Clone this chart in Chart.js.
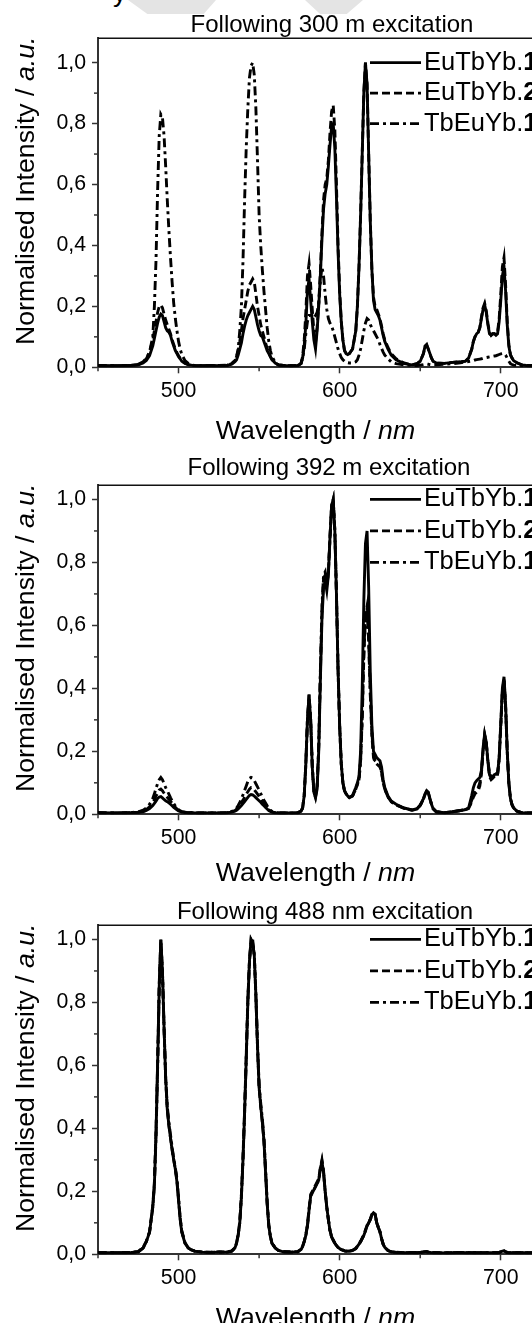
<!DOCTYPE html>
<html><head><meta charset="utf-8">
<script src="https://cdn.jsdelivr.net/npm/chart.js@4.4.1/dist/chart.umd.min.js"></script>
<style>
html,body{margin:0;padding:0;background:#fff;}
body{width:532px;height:1323px;overflow:hidden;position:relative;}
canvas{position:absolute;left:0;}
#frag{position:absolute;left:113px;top:-22px;font:26.7px "Liberation Sans",Arial,sans-serif;color:#000;line-height:30px;}
.wm{position:absolute;top:0;background:#e4e4e4;}
#wm1{left:128px;width:88px;height:14px;clip-path:polygon(0 0,100% 0,86% 100%,22% 100%);}
#wm2{left:305px;width:58px;height:14px;clip-path:polygon(0 0,100% 0,72% 100%,26% 100%);}
</style></head><body>
<div class="wm" id="wm1"></div>
<div class="wm" id="wm2"></div>
<div id="frag">y</div>
<canvas id="c1" width="664" height="460" style="top:0px"></canvas>
<canvas id="c2" width="664" height="460" style="top:447px"></canvas>
<canvas id="c3" width="664" height="460" style="top:887px"></canvas>
<script>
// ---------- DATA ----------
const wavelength = [
 450,460,470,475,478,480,482,484,485,486,
 487,488,489,490,491,492,493,494,495,496,
 497,498,499,500,501,502,504,506,508,510,
 515,520,525,530,533,535,536,537,538,539,
 540,541,542,543,544,545,546,547,548,549,
 550,551,552,553,554,555,556,557,558,560,
 562,565,570,574,576,577,578,579,580,581,
 582,583,584,585,586,587,588,589,590,591,
 592,593,594,595,596,597,598,599,600,601,
 602,603,604,605,606,608,610,611,612,613,
 614,615,616,617,618,619,620,621,622,623,
 624,625,626,627,628,630,632,635,640,645,
 648,650,652,653,654,655,656,657,658,660,
 665,670,675,678,680,682,683,684,685,686,
 687,688,689,690,691,692,693,694,695,696,
 697,698,699,700,701,702,703,704,705,706,
 707,708,710,713,716,720];

const seriesNames = ['EuTbYb.1', 'EuTbYb.2', 'TbEuYb.1'];
const panelTitles = ['Following 300 m excitation', 'Following 392 m excitation', 'Following 488 nm excitation'];
const xMajorStep = 100;
const xMinorTicks = [450, 550, 650];
const yMajorStep = 0.2;
const yMinorTicks = [0.1, 0.3, 0.5, 0.7, 0.9];
const yMaxByPanel = [1.08, 1.045, 1.045];
const legendRowValues = [1.0, 0.9, 0.8];

// Panel 1 : 300 nm excitation
const ex300_EuTbYb1 = [
 .006,.005,.006,.008,.014,.022,.038,.07,.095,.12,
 .145,.165,.175,.17,.15,.13,.12,.115,.105,.085,
 .07,.055,.045,.035,.028,.02,.013,.009,.007,.006,
 .005,.006,.005,.006,.01,.018,.025,.04,.06,.08,
 .11,.135,.155,.17,.18,.19,.2,.19,.165,.14,
 .12,.105,.1,.085,.07,.055,.045,.035,.025,.014,
 .008,.006,.005,.006,.012,.03,.07,.14,.25,.29,
 .22,.15,.09,.06,.12,.2,.3,.42,.52,.57,
 .6,.66,.73,.79,.8,.72,.56,.38,.24,.15,
 .09,.055,.045,.042,.045,.06,.12,.2,.33,.5,
 .7,.9,1.0,.93,.7,.48,.32,.22,.19,.18,
 .17,.155,.13,.105,.085,.06,.04,.025,.012,.008,
 .012,.02,.045,.07,.075,.06,.045,.03,.02,.014,
 .013,.016,.018,.02,.03,.06,.085,.1,.11,.115,
 .13,.16,.19,.205,.18,.14,.11,.105,.11,.11,
 .105,.11,.15,.22,.3,.33,.25,.14,.07,.04,
 .03,.022,.015,.008,.006,.005];
const ex300_EuTbYb2 = [
 .006,.005,.006,.009,.016,.028,.05,.09,.12,.15,
 .18,.2,.205,.195,.175,.155,.14,.125,.11,.09,
 .075,.06,.048,.038,.03,.022,.014,.009,.007,.006,
 .005,.006,.006,.007,.012,.022,.035,.055,.085,.12,
 .16,.19,.22,.25,.27,.28,.29,.28,.24,.2,
 .17,.14,.12,.1,.08,.062,.048,.035,.025,.014,
 .008,.006,.005,.006,.013,.035,.09,.18,.3,.34,
 .27,.19,.12,.08,.13,.21,.31,.44,.55,.6,
 .62,.68,.77,.84,.86,.78,.6,.4,.25,.15,
 .09,.055,.045,.042,.045,.06,.12,.2,.33,.5,
 .7,.9,1.0,.93,.7,.48,.32,.23,.2,.19,
 .175,.16,.135,.11,.09,.065,.045,.028,.014,.008,
 .012,.02,.045,.068,.072,.06,.045,.03,.02,.014,
 .013,.016,.018,.02,.03,.06,.085,.1,.11,.115,
 .13,.165,.195,.21,.185,.145,.115,.105,.11,.11,
 .11,.115,.16,.24,.33,.36,.27,.15,.075,.042,
 .03,.022,.015,.008,.006,.005];
const ex300_TbEuYb1 = [
 .005,.005,.006,.01,.018,.03,.05,.1,.2,.35,
 .58,.76,.83,.82,.76,.66,.55,.45,.36,.28,
 .21,.16,.12,.085,.06,.042,.022,.013,.008,.006,
 .005,.005,.005,.006,.012,.022,.035,.06,.12,.2,
 .35,.55,.72,.85,.95,.99,1.0,.96,.85,.68,
 .5,.4,.32,.25,.19,.13,.085,.055,.035,.016,
 .008,.006,.005,.006,.012,.03,.06,.11,.15,.17,
 .17,.165,.165,.17,.18,.21,.28,.33,.3,.24,
 .19,.16,.145,.135,.12,.1,.08,.06,.045,.032,
 .025,.02,.016,.015,.014,.014,.018,.025,.04,.06,
 .09,.12,.145,.16,.155,.14,.13,.12,.11,.1,
 .09,.075,.062,.05,.04,.028,.018,.012,.008,.006,
 .006,.007,.009,.01,.011,.01,.009,.008,.008,.008,
 .01,.012,.015,.017,.019,.021,.022,.024,.025,.026,
 .027,.028,.03,.031,.032,.033,.034,.035,.036,.037,
 .038,.04,.042,.044,.045,.045,.04,.03,.02,.012,
 .009,.007,.006,.005,.005,.005];

// Panel 2 : 392 nm excitation
const ex392_EuTbYb1 = [
 .005,.004,.005,.006,.008,.012,.018,.028,.035,.042,
 .05,.055,.056,.052,.047,.043,.04,.036,.032,.027,
 .022,.018,.014,.011,.009,.007,.006,.005,.005,.004,
 .004,.004,.004,.005,.007,.01,.013,.017,.022,.028,
 .034,.04,.047,.054,.06,.063,.062,.058,.053,.048,
 .043,.038,.032,.027,.022,.017,.012,.009,.007,.005,
 .004,.004,.004,.005,.01,.02,.06,.16,.3,.38,
 .3,.15,.07,.052,.08,.2,.42,.62,.72,.74,
 .71,.76,.88,.98,1.0,.9,.7,.46,.28,.16,
 .1,.075,.065,.058,.053,.06,.085,.1,.12,.2,
 .4,.68,.86,.9,.72,.45,.28,.2,.19,.18,
 .175,.17,.15,.11,.085,.058,.042,.032,.02,.014,
 .018,.03,.05,.065,.075,.07,.05,.032,.018,.008,
 .005,.008,.012,.015,.02,.06,.085,.1,.107,.112,
 .117,.14,.21,.255,.23,.17,.125,.115,.12,.126,
 .128,.128,.18,.29,.4,.437,.35,.2,.1,.05,
 .03,.02,.01,.005,.004,.004];
const ex392_EuTbYb2 = [
 .005,.004,.005,.007,.01,.015,.024,.036,.046,.058,
 .068,.077,.08,.075,.067,.06,.054,.048,.042,.035,
 .028,.022,.017,.013,.01,.008,.006,.005,.005,.004,
 .004,.004,.004,.005,.008,.012,.016,.022,.029,.037,
 .045,.054,.063,.072,.08,.085,.084,.078,.071,.064,
 .057,.05,.042,.035,.028,.021,.015,.011,.008,.005,
 .004,.004,.004,.005,.01,.02,.06,.16,.3,.38,
 .3,.15,.07,.055,.085,.21,.44,.64,.75,.76,
 .72,.77,.88,.98,1.0,.9,.7,.46,.28,.16,
 .1,.075,.065,.058,.053,.058,.08,.095,.11,.17,
 .3,.5,.62,.65,.55,.38,.25,.18,.165,.16,
 .155,.15,.135,.1,.08,.055,.04,.03,.019,.013,
 .017,.028,.048,.063,.073,.068,.05,.032,.018,.008,
 .005,.008,.012,.015,.018,.04,.055,.065,.07,.075,
 .09,.13,.2,.25,.225,.165,.12,.11,.115,.12,
 .122,.124,.175,.28,.39,.43,.34,.2,.1,.05,
 .03,.02,.01,.005,.004,.004];
const ex392_TbEuYb1 = [
 .005,.004,.005,.008,.013,.02,.032,.05,.065,.082,
 .098,.11,.117,.11,.098,.085,.075,.064,.053,.043,
 .034,.026,.02,.015,.011,.009,.007,.005,.005,.004,
 .004,.004,.004,.005,.009,.015,.02,.028,.038,.05,
 .062,.076,.09,.104,.114,.117,.115,.107,.097,.087,
 .077,.066,.055,.045,.036,.027,.019,.013,.009,.006,
 .004,.004,.004,.005,.01,.02,.06,.16,.3,.37,
 .3,.155,.075,.06,.09,.22,.45,.66,.76,.77,
 .73,.77,.88,.98,1.0,.9,.7,.46,.28,.16,
 .1,.075,.065,.058,.053,.058,.08,.095,.11,.17,
 .31,.52,.63,.66,.56,.39,.26,.19,.17,.165,
 .16,.15,.135,.1,.08,.055,.04,.03,.019,.013,
 .017,.028,.048,.063,.073,.068,.05,.032,.018,.008,
 .005,.008,.012,.015,.018,.045,.065,.075,.08,.085,
 .1,.135,.2,.25,.225,.17,.13,.12,.125,.128,
 .128,.128,.175,.28,.39,.43,.34,.2,.1,.05,
 .03,.02,.01,.005,.004,.004];

// Panel 3 : 488 nm excitation
const ex488_EuTbYb1 = [
 .005,.005,.005,.008,.02,.04,.07,.15,.22,.38,
 .6,.85,1.0,.9,.72,.56,.46,.41,.37,.33,
 .3,.27,.23,.17,.11,.07,.035,.02,.014,.01,
 .007,.006,.007,.007,.01,.02,.035,.06,.1,.18,
 .3,.45,.62,.8,.93,1.0,.99,.95,.82,.66,
 .53,.47,.42,.36,.26,.16,.09,.055,.035,.02,
 .012,.008,.007,.008,.015,.025,.04,.06,.09,.14,
 .185,.195,.205,.215,.225,.235,.27,.295,.26,.2,
 .15,.11,.075,.055,.045,.035,.028,.022,.018,.015,
 .013,.011,.01,.01,.01,.012,.018,.025,.032,.04,
 .05,.06,.075,.09,.1,.11,.125,.132,.128,.1,
 .085,.072,.05,.032,.022,.012,.008,.006,.005,.005,
 .005,.006,.007,.008,.008,.007,.006,.005,.005,.005,
 .004,.005,.006,.005,.005,.005,.005,.005,.005,.005,
 .005,.005,.005,.005,.005,.005,.005,.005,.005,.005,
 .005,.005,.006,.008,.01,.011,.008,.006,.005,.005,
 .005,.005,.005,.005,.005,.005];
const ex488_EuTbYb2 = [
 .005,.005,.006,.009,.022,.042,.072,.155,.23,.39,
 .61,.86,1.0,.9,.72,.56,.46,.41,.37,.335,
 .3,.27,.235,.175,.115,.075,.037,.021,.014,.01,
 .007,.007,.008,.007,.011,.021,.037,.063,.105,.19,
 .31,.46,.63,.81,.93,1.0,.99,.95,.82,.66,
 .53,.47,.42,.36,.265,.165,.095,.058,.036,.02,
 .012,.008,.008,.009,.016,.026,.042,.063,.095,.145,
 .19,.2,.21,.22,.23,.24,.275,.3,.265,.2,
 .15,.11,.076,.056,.045,.036,.028,.022,.018,.015,
 .013,.011,.01,.01,.011,.013,.019,.026,.033,.042,
 .052,.062,.077,.092,.102,.112,.127,.133,.128,.1,
 .085,.072,.05,.032,.022,.012,.008,.007,.005,.006,
 .006,.006,.008,.008,.009,.007,.006,.006,.005,.005,
 .005,.005,.006,.005,.006,.005,.005,.005,.006,.005,
 .005,.005,.005,.005,.005,.005,.005,.005,.005,.005,
 .005,.005,.006,.008,.01,.011,.008,.006,.005,.005,
 .005,.005,.005,.005,.005,.005];
const ex488_TbEuYb1 = [
 .005,.005,.005,.008,.02,.04,.07,.15,.22,.37,
 .59,.84,.99,.9,.72,.56,.47,.42,.38,.34,
 .305,.275,.24,.18,.115,.072,.036,.02,.014,.01,
 .007,.006,.007,.007,.01,.02,.036,.062,.1,.185,
 .3,.45,.62,.8,.93,.99,1.0,.95,.83,.67,
 .54,.48,.43,.37,.27,.165,.092,.056,.035,.02,
 .012,.008,.007,.008,.015,.025,.04,.06,.09,.14,
 .185,.195,.205,.215,.225,.235,.27,.29,.26,.2,
 .15,.11,.075,.055,.045,.035,.028,.022,.018,.015,
 .013,.011,.01,.01,.01,.012,.018,.025,.032,.04,
 .05,.06,.075,.09,.1,.11,.125,.13,.126,.1,
 .085,.072,.05,.032,.022,.012,.008,.006,.005,.005,
 .005,.006,.007,.008,.008,.007,.006,.005,.005,.005,
 .004,.005,.006,.005,.005,.005,.005,.005,.005,.005,
 .005,.005,.005,.005,.005,.005,.005,.005,.005,.005,
 .005,.005,.006,.008,.01,.011,.008,.006,.005,.005,
 .005,.005,.005,.005,.005,.005];

// ---------- RENDERING ----------
const FONT = '"Liberation Sans", Arial, Helvetica, sans-serif';
const dashStyles = [[], [8, 4], [9, 4, 3, 4]];
const AXIS = '#333';

function seg(ctx, x1, y1, x2, y2) { ctx.beginPath(); ctx.moveTo(x1, y1); ctx.lineTo(x2, y2); ctx.stroke(); }

const overlay = {
  id: 'overlay',
  afterDraw(chart, args, opts) {
    const {ctx, chartArea: a, scales: {x, y}} = chart;
    ctx.save();
    // frame (top & right)
    ctx.strokeStyle = '#111'; ctx.lineWidth = 1.6;
    seg(ctx, a.left, a.top, a.right, a.top);
    seg(ctx, a.right, a.top, a.right, a.bottom);
    // minor ticks
    ctx.strokeStyle = AXIS; ctx.lineWidth = 1.5;
    xMinorTicks.forEach(v => { const px = x.getPixelForValue(v); seg(ctx, px, a.bottom, px, a.bottom + 4); });
    yMinorTicks.forEach(v => { const py = y.getPixelForValue(v); seg(ctx, a.left - 4, py, a.left, py); });
    // panel title
    ctx.fillStyle = '#000'; ctx.textAlign = 'center'; ctx.textBaseline = 'alphabetic';
    ctx.font = '24px ' + FONT;
    ctx.fillText(opts.title, opts.titleX, a.top - opts.titleGap);
    ctx.textAlign = 'left';
    // legend
    chart.data.datasets.forEach((ds, i) => {
      const py = y.getPixelForValue(legendRowValues[i]);
      ctx.strokeStyle = '#000'; ctx.lineWidth = 2.8; ctx.setLineDash(ds.borderDash || []);
      seg(ctx, 370, py, 421, py);
      ctx.setLineDash([]);
      ctx.textBaseline = 'middle';
      const base = ds.label.slice(0, -1), last = ds.label.slice(-1);
      ctx.font = '25.5px ' + FONT;
      ctx.fillText(base, 424, py);
      const w = ctx.measureText(base).width;
      ctx.font = 'bold 25.5px ' + FONT;
      ctx.fillText(last, 424 + w, py);
    });
    // x axis title
    ctx.textBaseline = 'alphabetic';
    const xt1 = 'Wavelength / ', xt2 = 'nm';
    ctx.font = '26.7px ' + FONT; const w1 = ctx.measureText(xt1).width;
    ctx.font = 'italic 26.7px ' + FONT; const w2 = ctx.measureText(xt2).width;
    const cx = (a.left + a.right) / 2, by = a.bottom + opts.xTitleGap;
    ctx.font = '26.7px ' + FONT; ctx.fillText(xt1, cx - (w1 + w2) / 2, by);
    ctx.font = 'italic 26.7px ' + FONT; ctx.fillText(xt2, cx - (w1 + w2) / 2 + w1, by);
    // y axis title
    const yt1 = 'Normalised Intensity / ', yt2 = 'a.u.';
    ctx.font = '26.7px ' + FONT; const v1 = ctx.measureText(yt1).width;
    ctx.font = 'italic 26.7px ' + FONT; const v2 = ctx.measureText(yt2).width;
    const cy = (a.top + a.bottom) / 2 - 12;
    ctx.translate(34.4, cy); ctx.rotate(-Math.PI / 2);
    ctx.font = '26.7px ' + FONT; ctx.fillText(yt1, -(v1 + v2) / 2, 0);
    ctx.font = 'italic 26.7px ' + FONT; ctx.fillText(yt2, -(v1 + v2) / 2 + v1, 0);
    ctx.restore();
  }
};

function makeChart(id, series, title, yMax, titleX, titleGap, xTitleGap) {
  const canvas = document.getElementById(id);
  const W = canvas.width;
  return new Chart(canvas, {
    type: 'line',
    data: {
      datasets: seriesNames.map((name, i) => ({
        label: name,
        data: wavelength.map((w, k) => ({x: w, y: series[i][k]})),
        borderColor: '#000', backgroundColor: '#000',
        borderWidth: 2.9, borderDash: dashStyles[i],
        pointRadius: 0, tension: 0, fill: false
      }))
    },
    options: {
      responsive: false, animation: false, devicePixelRatio: 1,
      layout: {padding: {top: 38.3, left: 0, right: W - 533, bottom: 32.7}},
      plugins: {
        legend: {display: false}, tooltip: {enabled: false}, title: {display: false},
        overlay: {title: title, titleX: titleX, titleGap: titleGap, xTitleGap: xTitleGap}
      },
      scales: {
        x: {
          type: 'linear', min: 450, max: 720,
          afterFit: s => { s.height = 60; },
          ticks: {stepSize: xMajorStep, includeBounds: false, color: '#000', maxRotation: 0, autoSkip: false,
                  font: {family: FONT, size: 21.3}, padding: 5},
          grid: {drawOnChartArea: false, drawTicks: true, tickLength: 6, tickColor: AXIS, tickWidth: 1.5},
          border: {display: true, color: AXIS, width: 2}
        },
        y: {
          type: 'linear', min: 0, max: yMax,
          afterFit: s => { s.width = 98; },
          ticks: {stepSize: yMajorStep, includeBounds: false, color: '#000',
                  font: {family: FONT, size: 21.3}, padding: 6,
                  callback: v => v.toFixed(1).replace('.', ',')},
          grid: {drawOnChartArea: false, drawTicks: true, tickLength: 6, tickColor: AXIS, tickWidth: 1.5},
          border: {display: true, color: AXIS, width: 2}
        }
      }
    },
    plugins: [overlay]
  });
}

makeChart('c1', [ex300_EuTbYb1, ex300_EuTbYb2, ex300_TbEuYb1], panelTitles[0], yMaxByPanel[0], 332, 6.5, 71.7);
makeChart('c2', [ex392_EuTbYb1, ex392_EuTbYb2, ex392_TbEuYb1], panelTitles[1], yMaxByPanel[1], 329, 10, 67);
makeChart('c3', [ex488_EuTbYb1, ex488_EuTbYb2, ex488_TbEuYb1], panelTitles[2], yMaxByPanel[2], 325, 6.6, 71.7);
</script>
</body></html>
